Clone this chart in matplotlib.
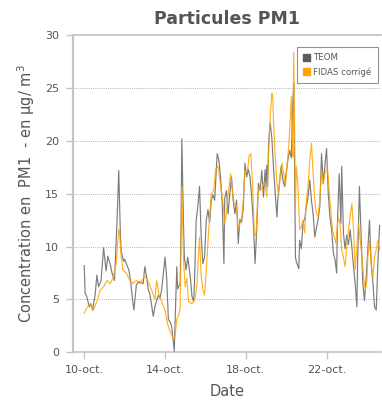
import matplotlib
matplotlib.use("Agg")
import matplotlib.pyplot as plt
import matplotlib.dates as mdates
from matplotlib.patches import Patch
from matplotlib.ticker import FuncFormatter
import pandas as pd

# hours since 10-oct 00:00 and concentrations (µg/m3)
teom_hours = [0, 1, 3, 6, 8, 10, 13, 15, 17, 20, 23, 26, 28, 31, 33, 36, 39, 41, 43, 44,
              47, 48, 51, 53, 55, 57, 59, 62, 65, 67, 70, 72, 74, 76, 78, 80, 82, 84, 86, 88,
              90, 92, 94, 96, 98, 100, 102, 104, 105, 107, 108, 110, 111, 114, 115, 116, 118, 119, 121, 123,
              126, 128, 130, 131, 133, 135, 137, 139, 141, 143, 145, 147, 149, 151, 153, 155, 158, 160, 162, 164,
              166, 167, 169, 171, 173, 175, 177, 179, 181, 183, 185, 187, 189, 191, 193, 195, 197, 199, 201, 203,
              205, 207, 209, 211, 213, 215, 216, 217, 218, 219, 221, 223, 225, 227, 229, 230, 232, 234, 236, 238,
              240, 242, 244, 246, 248, 249, 251, 252, 255, 256, 258, 260, 262, 264, 266, 268, 270, 272, 274, 276,
              278, 280, 282, 284, 286, 288, 290, 292, 294, 296, 298, 300, 301, 303, 305, 306, 308, 310, 312, 314,
              316, 318, 320, 322, 324, 325, 327, 329, 331, 333, 335, 337, 339, 341, 343, 345, 347, 349, 351]
teom_values = [8.2, 5.6, 5.3, 4.3, 4.6, 4.0, 5.5, 7.3, 6.2, 6.8, 9.9, 7.7, 9.1, 8.3, 7.5, 6.8, 12.5, 17.2, 11.0, 9.5,
               8.6, 8.8, 8.2, 7.8, 6.8, 5.3, 4.0, 6.4, 6.7, 6.6, 6.5, 8.1, 7.2, 6.0, 5.5, 4.5, 3.4, 4.3, 4.9, 5.4,
               5.1, 5.9, 7.5, 9.0, 7.0, 3.1, 2.9, 2.4, 1.6, 0.1, 3.0, 8.1, 6.0, 6.5, 12.0, 20.2, 12.0, 9.0, 7.8, 9.0,
               7.2, 5.3, 4.8, 6.5, 12.5, 13.8, 15.7, 11.0, 8.4, 9.0, 12.5, 13.5, 12.3, 14.4, 14.9, 14.4, 18.8, 18.2, 16.6, 14.1,
               8.4, 14.6, 15.3, 13.1, 15.0, 16.6, 14.4, 13.1, 14.4, 10.3, 12.6, 12.3, 13.6, 17.9, 16.6, 17.3, 16.6, 14.7, 12.2, 8.4,
               11.6, 16.0, 15.3, 17.2, 14.7, 17.3, 15.7, 17.7, 15.7, 19.8, 21.7, 20.2, 17.4, 15.0, 12.8, 14.4, 16.0, 17.6, 16.3, 15.7,
               17.0, 18.2, 19.1, 18.4, 23.9, 25.5, 9.0, 8.6, 7.9, 10.6, 9.8, 12.3, 12.6, 13.8, 14.7, 16.3, 14.4, 13.1, 10.9, 11.8,
               12.6, 13.8, 18.8, 16.0, 17.6, 19.3, 15.0, 12.8, 11.6, 9.4, 8.8, 7.5, 12.5, 16.9, 12.2, 17.6, 11.3, 9.8, 11.1, 10.2,
               11.6, 10.0, 8.1, 6.5, 4.3, 9.0, 15.7, 11.0, 6.6, 4.9, 7.0, 9.8, 12.5, 8.4, 6.6, 4.3, 4.0, 8.5, 12.0]

fidas_hours = [0, 3, 7, 11, 15, 19, 23, 27, 31, 34, 38, 41, 42, 44, 46, 50, 54, 58, 62, 66,
               72, 76, 80, 84, 86, 89, 93, 96, 98, 100, 102, 106, 108, 110, 112, 114, 115, 116, 118, 120,
               122, 124, 128, 130, 132, 134, 135, 137, 139, 141, 143, 145, 147, 149, 151, 154, 156, 159, 161, 163,
               165, 167, 169, 171, 174, 176, 178, 181, 183, 185, 187, 189, 191, 194, 196, 198, 200, 202, 204, 206,
               208, 211, 213, 215, 217, 219, 221, 223, 224, 225, 227, 229, 231, 233, 235, 237, 239, 241, 243, 245,
               246, 247, 248, 249, 251, 252, 254, 256, 258, 260, 262, 264, 266, 268, 270, 272, 274, 276, 278, 280,
               282, 284, 286, 289, 291, 293, 295, 297, 299, 300, 302, 304, 306, 308, 310, 312, 314, 316, 318, 320,
               322, 324, 326, 328, 330, 332, 334, 336, 337, 339, 341, 343, 345, 347, 349, 351]
fidas_values = [3.7, 4.2, 4.6, 4.0, 4.8, 5.9, 6.2, 6.8, 6.5, 7.0, 8.4, 11.6, 11.2, 9.0, 7.8, 7.5, 6.8, 6.5, 6.8, 6.5,
                7.2, 6.7, 5.9, 5.0, 6.8, 5.4, 4.6, 4.0, 3.1, 2.4, 2.0, 1.3, 1.5, 3.2, 3.4, 4.2, 10.0, 15.7, 8.7, 6.2,
                7.0, 4.8, 4.6, 4.8, 5.2, 6.5, 8.1, 10.9, 7.2, 5.9, 5.4, 7.7, 10.4, 12.8, 15.0, 15.3, 17.3, 17.6, 16.4, 15.2,
                14.1, 12.2, 13.1, 15.0, 16.9, 15.3, 14.1, 13.8, 11.6, 12.2, 12.5, 14.4, 17.2, 17.2, 18.6, 18.8, 16.0, 11.3, 11.0, 14.4,
                15.7, 15.5, 16.0, 16.0, 14.7, 18.5, 22.3, 24.5, 24.2, 21.7, 18.5, 16.0, 15.0, 16.9, 17.9, 16.9, 15.7, 17.6, 19.5, 22.3,
                24.2, 20.8, 18.5, 28.4, 13.8, 17.6, 15.7, 11.6, 11.9, 12.5, 11.3, 14.4, 15.7, 18.2, 19.8, 16.9, 14.4, 13.2, 12.8, 14.5,
                17.2, 15.9, 16.9, 17.5, 15.4, 13.5, 11.6, 11.0, 10.3, 11.3, 12.8, 12.2, 9.7, 9.0, 8.1, 10.0, 11.6, 12.8, 14.1, 11.6,
                7.8, 10.0, 12.2, 10.6, 9.0, 7.1, 5.9, 6.8, 9.0, 10.6, 8.4, 7.1, 9.0, 9.7, 10.6, 9.7]

series_names = ["TEOM", "FIDAS corrigé"]
series_colors = ["#5c5c5c", "#FFA500"]
tick_dates = ["2020-10-10", "2020-10-14", "2020-10-18", "2020-10-22"]
fr_months = {10: "oct."}

start = pd.Timestamp("2020-10-10")
t_teom = start + pd.to_timedelta(teom_hours, unit="h")
t_fidas = start + pd.to_timedelta(fidas_hours, unit="h")

fig = plt.figure(figsize=(3.82, 4.03), dpi=100)
ax = fig.add_axes([0.191, 0.1258, 0.806, 0.7866])

ax.plot(t_teom, teom_values, color=series_colors[0], lw=0.85, alpha=0.8, zorder=3)
ax.plot(t_fidas, fidas_values, color=series_colors[1], lw=0.85, alpha=0.85, zorder=4)

ax.set_ylim(0, 30)
ax.set_yticks([0, 5, 10, 15, 20, 25, 30])
ax.set_xlim(start - pd.Timedelta(hours=13.4), start + pd.Timedelta(hours=352.5))
ax.set_xticks([mdates.date2num(pd.Timestamp(d)) for d in tick_dates])
ax.xaxis.set_major_formatter(FuncFormatter(
    lambda v, p: f"{mdates.num2date(v).day}-{fr_months.get(mdates.num2date(v).month, '')}"))

ax.yaxis.grid(True, linestyle=(0, (1.2, 1.4)), color="#a8a8a8", lw=0.6, zorder=1)
ax.set_axisbelow(True)
ax.spines["right"].set_visible(False)
for s in ["left", "bottom", "top"]:
    ax.spines[s].set_color("#c4c4c4")
ax.spines["left"].set_linewidth(1.6)
ax.spines["bottom"].set_linewidth(1.2)
ax.spines["top"].set_linewidth(1.2)

ax.tick_params(axis="both", colors="#c4c4c4", length=5, width=1, labelcolor="#555555", labelsize=8)
ax.tick_params(axis="y", pad=5)
ax.tick_params(axis="x", pad=4.5)

ax.set_title("Particules PM1", fontsize=12.5, fontweight="bold", color="#555555", pad=8)
ax.set_ylabel("Concentration en  PM1  - en µg/ m$^{3}$", fontsize=10.5, color="#555555", labelpad=6)
ax.set_xlabel("Date", fontsize=10.5, color="#555555", labelpad=6)

handles = [Patch(facecolor=c, edgecolor=c) for c in series_colors]
leg = ax.legend(handles, series_names, loc="upper right", bbox_to_anchor=(0.99, 0.962),
                fontsize=6.2, frameon=True, fancybox=False, handlelength=0.8, handleheight=0.8,
                handletextpad=0.45, borderpad=0.7, labelspacing=0.55, borderaxespad=0.0)
leg.get_frame().set_edgecolor("#777777")
leg.get_frame().set_linewidth(0.8)
for t in leg.get_texts():
    t.set_color("#555555")

fig.savefig("out.png", dpi=100)
